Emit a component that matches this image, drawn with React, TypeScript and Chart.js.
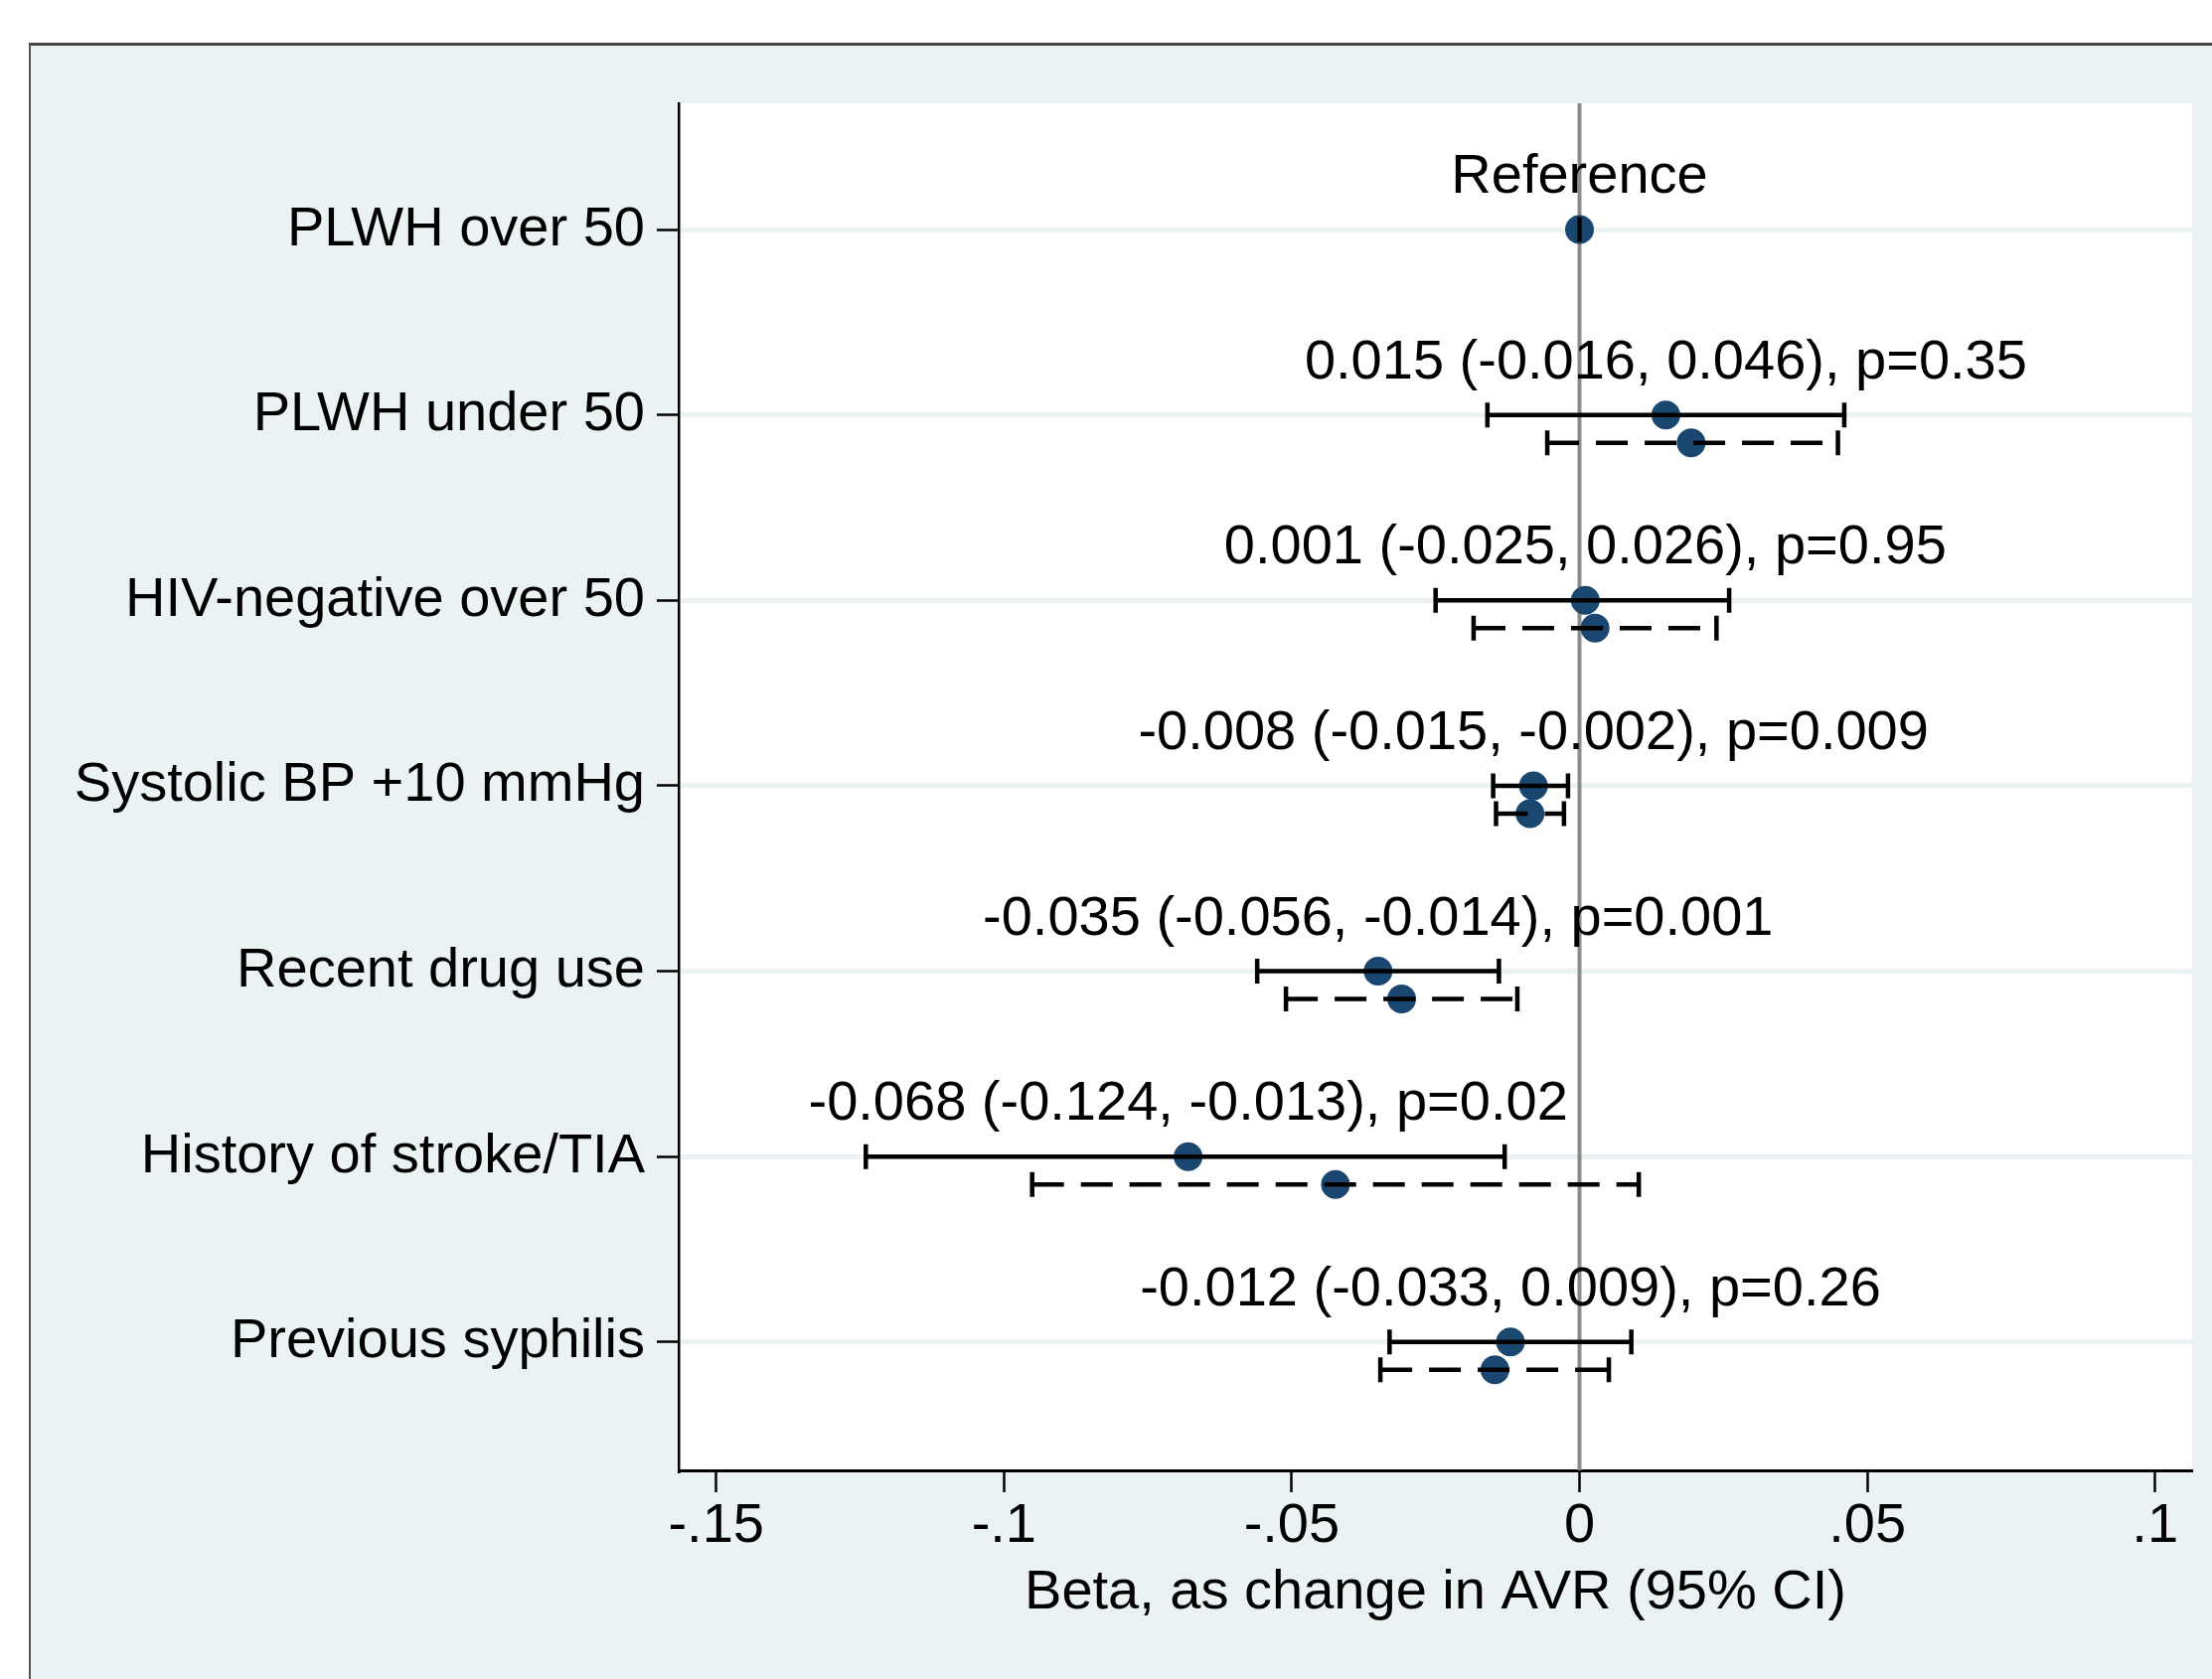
import React, { useEffect, useRef } from "react";
import { Chart, registerables } from "chart.js";

Chart.register(...registerables);

// ---------- data ----------
const categories = [
  "PLWH over 50",
  "PLWH under 50",
  "HIV-negative over 50",
  "Systolic BP +10 mmHg",
  "Recent drug use",
  "History of stroke/TIA",
  "Previous syphilis",
];

// primary (solid) estimates
const estimate = [0, 0.015, 0.001, -0.008, -0.035, -0.068, -0.012];
const ciLow = [0, -0.016, -0.025, -0.015, -0.056, -0.124, -0.033];
const ciHigh = [0, 0.046, 0.026, -0.002, -0.014, -0.013, 0.009];

// secondary (dashed) estimates
const estimate2 = [null, 0.0194, 0.0027, -0.0086, -0.0309, -0.0424, -0.0147];
const ciLow2 = [null, -0.0056, -0.0184, -0.0145, -0.051, -0.0951, -0.0346];
const ciHigh2 = [null, 0.0449, 0.0238, -0.0027, -0.0108, 0.0103, 0.0051];

const annotations = [
  "Reference",
  "0.015 (-0.016, 0.046), p=0.35",
  "0.001 (-0.025, 0.026), p=0.95",
  "-0.008 (-0.015, -0.002), p=0.009",
  "-0.035 (-0.056, -0.014), p=0.001",
  "-0.068 (-0.124, -0.013), p=0.02",
  "-0.012 (-0.033, 0.009), p=0.26",
];

const xTickValues = [-0.15, -0.1, -0.05, 0, 0.05, 0.1];
const xTickLabels = ["-.15", "-.1", "-.05", "0", ".05", ".1"];
const xAxisTitle = "Beta, as change in AVR (95% CI)";

// ---------- styling ----------
const FONT = '"Liberation Sans", Arial, Helvetica, sans-serif';
const FONT_SIZE = 56;
const BG = "rgb(234,242,243)";
const NAVY = "#1a476f";
const SECOND_OFFSET = 0.15;

export default function App() {
  const ref = useRef<HTMLCanvasElement>(null);

  useEffect(() => {
    document.body.style.margin = "0";
    document.body.style.overflow = "hidden";
    const canvas = ref.current!;

    const framePlugin = {
      id: "frame",
      beforeDraw(chart: any) {
        const { ctx, width, height, chartArea } = chart;
        ctx.save();
        ctx.fillStyle = "#ffffff";
        ctx.fillRect(0, 0, width, height);
        ctx.fillStyle = BG;
        ctx.fillRect(30, 44, width - 30, height - 44);
        ctx.strokeStyle = "#444444";
        ctx.lineWidth = 3;
        ctx.beginPath();
        ctx.moveTo(29, 44.5);
        ctx.lineTo(width, 44.5);
        ctx.stroke();
        ctx.lineWidth = 2;
        ctx.strokeStyle = "#555555";
        ctx.beginPath();
        ctx.moveTo(30, 44);
        ctx.lineTo(30, height);
        ctx.stroke();
        ctx.fillStyle = "#ffffff";
        ctx.fillRect(
          chartArea.left,
          chartArea.top,
          chartArea.right - chartArea.left,
          chartArea.bottom - chartArea.top
        );
        ctx.restore();
      },
      beforeDatasetsDraw(chart: any) {
        const { ctx, chartArea, scales } = chart;
        const x0 = scales.x.getPixelForValue(0);
        ctx.save();
        ctx.strokeStyle = "#8c8c8c";
        ctx.lineWidth = 4;
        ctx.beginPath();
        ctx.moveTo(x0, chartArea.top);
        ctx.lineTo(x0, chartArea.bottom);
        ctx.stroke();
        ctx.restore();
      },
      afterDatasetsDraw(chart: any) {
        const { ctx, scales } = chart;
        const xs = scales.x;
        const ys = scales.y;
        const cap = 12.5;
        const drawCI = (lo: number, hi: number, yv: number, dashed: boolean) => {
          const x1 = xs.getPixelForValue(lo);
          const x2 = xs.getPixelForValue(hi);
          const y = ys.getPixelForValue(yv);
          ctx.save();
          ctx.strokeStyle = "#000000";
          ctx.lineWidth = 4.5;
          ctx.lineCap = "butt";
          ctx.setLineDash(dashed ? [32, 17] : []);
          ctx.beginPath();
          ctx.moveTo(x1, y);
          ctx.lineTo(x2, y);
          ctx.stroke();
          ctx.setLineDash([]);
          ctx.beginPath();
          ctx.moveTo(x1, y - cap);
          ctx.lineTo(x1, y + cap);
          ctx.moveTo(x2, y - cap);
          ctx.lineTo(x2, y + cap);
          ctx.stroke();
          ctx.restore();
        };
        categories.forEach((_, i) => {
          drawCI(ciLow[i], ciHigh[i], i + 1, false);
          const lo2 = ciLow2[i];
          const hi2 = ciHigh2[i];
          if (lo2 !== null && hi2 !== null) {
            drawCI(lo2, hi2, i + 1 + SECOND_OFFSET, true);
          }
        });
        ctx.save();
        ctx.fillStyle = "#000000";
        ctx.font = `${FONT_SIZE}px ${FONT}`;
        ctx.textAlign = "center";
        ctx.textBaseline = "alphabetic";
        annotations.forEach((t, i) => {
          const x = xs.getPixelForValue(estimate[i]);
          const y = ys.getPixelForValue(i + 1);
          ctx.fillText(t, x, y - 37);
        });
        ctx.restore();
      },
    };

    const primaryData = estimate.map((x, i) => ({ x, y: i + 1 }));
    const secondaryData: { x: number; y: number }[] = [];
    estimate2.forEach((x, i) => {
      if (x !== null) secondaryData.push({ x, y: i + 1 + SECOND_OFFSET });
    });

    const chart = new Chart(canvas, {
      type: "scatter",
      data: {
        datasets: [
          {
            data: primaryData,
            backgroundColor: NAVY,
            borderWidth: 0,
            pointRadius: 14.5,
            pointHoverRadius: 14.5,
          },
          {
            data: secondaryData,
            backgroundColor: NAVY,
            borderWidth: 0,
            pointRadius: 14.5,
            pointHoverRadius: 14.5,
          },
        ],
      },
      options: {
        animation: false,
        responsive: false,
        devicePixelRatio: 1,
        events: [],
        layout: { padding: { left: 0, top: 104, right: 20, bottom: 0 } },
        plugins: {
          legend: { display: false },
          tooltip: { enabled: false },
        },
        scales: {
          x: {
            type: "linear",
            position: "bottom",
            min: -0.15651,
            max: 0.10644,
            afterBuildTicks: (scale: any) => {
              scale.ticks = xTickValues.map((v) => ({ value: v }));
            },
            afterFit: (scale: any) => {
              scale.height = 210;
            },
            ticks: {
              autoSkip: false,
              maxRotation: 0,
              padding: 1,
              color: "#000000",
              font: { family: FONT, size: FONT_SIZE },
              callback: (v: any) => {
                const idx = xTickValues.findIndex((t) => Math.abs(t - Number(v)) < 1e-9);
                return idx >= 0 ? xTickLabels[idx] : "";
              },
            },
            grid: {
              drawOnChartArea: false,
              drawTicks: true,
              tickLength: 22,
              tickColor: "#000000",
              tickWidth: 2.5,
            },
            border: { display: true, color: "#000000", width: 3 },
            title: {
              display: true,
              text: xAxisTitle,
              color: "#000000",
              font: { family: FONT, size: FONT_SIZE },
              padding: { top: 0, bottom: 53 },
            },
          },
          y: {
            type: "linear",
            reverse: true,
            min: 0.319,
            max: 7.692,
            afterBuildTicks: (scale: any) => {
              scale.ticks = categories.map((_, i) => ({ value: i + 1 }));
            },
            afterFit: (scale: any) => {
              scale.width = 683;
            },
            ticks: {
              autoSkip: false,
              padding: 12,
              color: "#000000",
              font: { family: FONT, size: FONT_SIZE },
              callback: (v: any) => categories[Math.round(Number(v)) - 1] ?? "",
            },
            grid: {
              drawOnChartArea: true,
              drawTicks: true,
              color: BG,
              lineWidth: 5,
              tickLength: 22,
              tickColor: "#000000",
              tickWidth: 2.5,
            },
            border: { display: true, color: "#000000", width: 2.5 },
          },
        },
      },
      plugins: [framePlugin],
    } as any);

    return () => chart.destroy();
  }, []);

  return (
    <canvas
      ref={ref}
      width={2226}
      height={1690}
      style={{ display: "block", width: 2226, height: 1690 }}
    />
  );
}
